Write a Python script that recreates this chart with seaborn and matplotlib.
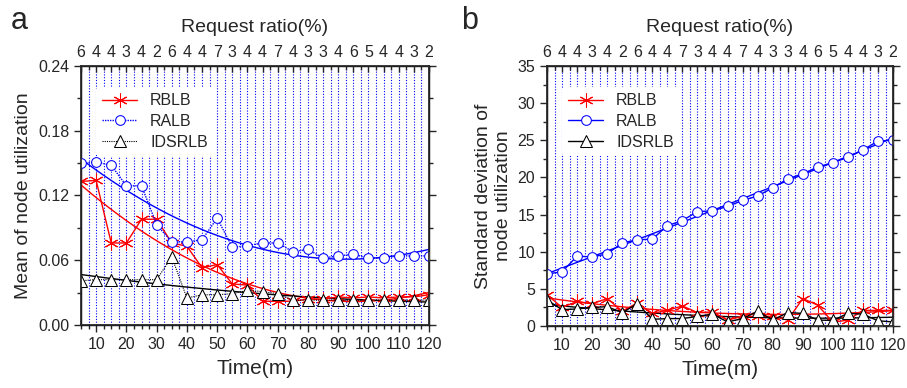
import numpy as np
import matplotlib
matplotlib.use("Agg")
import matplotlib.pyplot as plt
import seaborn as sns
from matplotlib.ticker import MultipleLocator, FormatStrFormatter

sns.set_theme(style="ticks")
plt.rcParams["font.family"] = ["Liberation Sans", "DejaVu Sans"]

# Data
time = np.arange(5, 121, 5)
ratio = ["6", "4", "4", "3", "4", "2", "6", "4", "4", "7", "3", "4",
         "4", "7", "4", "3", "3", "4", "6", "5", "4", "4", "3", "2"]

# panel a: mean of node utilization
mean_rblb = [0.133, 0.134, 0.076, 0.076, 0.098, 0.098, 0.076, 0.073, 0.053, 0.056, 0.038, 0.037,
             0.022, 0.022, 0.022, 0.024, 0.024, 0.026, 0.025, 0.026, 0.025, 0.026, 0.026, 0.028]
mean_ralb = [0.150, 0.151, 0.148, 0.129, 0.129, 0.093, 0.077, 0.077, 0.079, 0.099, 0.072, 0.0735,
             0.076, 0.076, 0.068, 0.070, 0.062, 0.064, 0.0655, 0.062, 0.062, 0.064, 0.064, 0.064]
mean_idsrlb = [0.041, 0.042, 0.042, 0.042, 0.042, 0.042, 0.063, 0.025, 0.028, 0.028, 0.029, 0.032,
               0.031, 0.029, 0.023, 0.023, 0.023, 0.023, 0.023, 0.023, 0.023, 0.023, 0.023, 0.023]

# panel b: standard deviation of node utilization
std_rblb = [4.2, 2.5, 3.3, 3.0, 3.7, 2.0, 3.1, 1.7, 2.1, 2.7, 1.8, 1.9,
            0.8, 1.3, 1.3, 1.3, 0.8, 3.7, 2.8, 0.5, 0.8, 2.1, 2.1, 2.1]
std_ralb = [7.0, 7.3, 9.4, 9.3, 9.7, 11.2, 11.6, 11.7, 13.5, 14.2, 15.4, 15.5,
            16.1, 16.9, 17.5, 18.6, 19.8, 20.5, 21.4, 22.0, 22.7, 23.7, 24.9, 25.0]
std_idsrlb = [3.5, 2.2, 2.3, 2.5, 2.6, 1.8, 3.0, 0.9, 1.0, 1.0, 1.3, 1.6,
              0.55, 1.0, 2.0, 0.8, 1.8, 1.7, 0.8, 0.75, 1.7, 1.6, 0.7, 0.55]

fig = plt.figure(figsize=(9.07, 3.88), dpi=100)
ax_a = fig.add_axes([0.0893, 0.1624, 0.3837, 0.6675])
ax_b = fig.add_axes([0.6031, 0.1598, 0.3815, 0.6701])

grid_x = np.arange(5, 120.1, 2.5)
tt = np.linspace(5, 120, 200)


def fit_line(ax, y, color, deg=2):
    coef = np.polyfit(time, y, deg)
    sns.lineplot(x=tt, y=np.polyval(coef, tt), ax=ax, color=color, lw=1, zorder=3)


def style_panel(ax, ymax, ymajor, yminor, ylabel):
    for gx in grid_x:
        ax.axvline(gx, color="#0000ff", lw=0.8, ls=(0, (1, 1.5)), zorder=0)
    ax.set_xticks(np.arange(10, 121, 10))
    ax.xaxis.set_minor_locator(MultipleLocator(2.5))
    ax.set_xlim(5, 120)
    ax.set_ylim(0, ymax)
    ax.yaxis.set_major_locator(MultipleLocator(ymajor))
    ax.yaxis.set_minor_locator(MultipleLocator(yminor))
    ax.tick_params(axis="both", which="major", labelsize=11.5, length=5, width=1, direction="out")
    ax.tick_params(axis="both", which="minor", length=3, width=1, direction="out")
    ax.tick_params(axis="y", which="both", right=True, labelright=False)
    for side in ["left", "right", "top", "bottom"]:
        ax.spines[side].set_visible(True)
        ax.spines[side].set_color("black")
        ax.spines[side].set_linewidth(1)
    ax.set_xlabel("Time(m)", fontsize=15, labelpad=5)
    ax.set_ylabel(ylabel, fontsize=14)

    top = ax.twiny()
    top.set_xlim(5, 120)
    top.set_xticks(time)
    top.set_xticklabels(ratio)
    top.xaxis.set_minor_locator(MultipleLocator(2.5))
    top.tick_params(axis="x", which="major", labelsize=11.5, length=4, width=1, direction="in", pad=4)
    top.tick_params(axis="x", which="minor", length=3, width=1, direction="in")
    top.set_xlabel("Request ratio(%)", fontsize=14, labelpad=10)

    leg = ax.legend(loc="upper left", bbox_to_anchor=(0.02, 0.95), frameon=True, fontsize=11.5,
                    handlelength=2.2, borderpad=0.4, labelspacing=0.35)
    leg.get_frame().set_edgecolor("none")
    leg.get_frame().set_facecolor("white")
    leg.get_frame().set_alpha(1)


# panel a
sns.lineplot(x=time, y=mean_rblb, ax=ax_a, color="red", lw=1, marker=(6, 2, 0), ms=10,
             mec="red", label="RBLB", zorder=4)
sns.lineplot(x=time, y=mean_ralb, ax=ax_a, color="blue", lw=1, ls=(0, (1, 0.8)), marker="o", ms=7,
             mfc="white", mec="blue", label="RALB", zorder=4)
sns.lineplot(x=time, y=mean_idsrlb, ax=ax_a, color="black", lw=0.8, ls=(0, (1, 1)), marker="^", ms=8,
             mfc="white", mec="black", label="IDSRLB", zorder=4)
fit_line(ax_a, mean_rblb, "red")
fit_line(ax_a, mean_ralb, "blue")
fit_line(ax_a, mean_idsrlb, "black")
style_panel(ax_a, 0.24, 0.06, 0.03, "Mean of node utilization")
ax_a.yaxis.set_major_formatter(FormatStrFormatter("%.2f"))

# panel b
sns.lineplot(x=time, y=std_rblb, ax=ax_b, color="red", lw=1, marker=(6, 2, 0), ms=10,
             mec="red", label="RBLB", zorder=4)
sns.lineplot(x=time, y=std_ralb, ax=ax_b, color="blue", lw=1, marker="o", ms=7,
             mfc="white", mec="blue", label="RALB", zorder=4)
sns.lineplot(x=time, y=std_idsrlb, ax=ax_b, color="black", lw=1, marker="^", ms=8,
             mfc="white", mec="black", label="IDSRLB", zorder=4)
fit_line(ax_b, std_rblb, "red")
fit_line(ax_b, std_ralb, "blue")
fit_line(ax_b, std_idsrlb, "black")
style_panel(ax_b, 35, 5, 2.5, "Standard deviation of\nnode utilization")

fig.text(0.012, 0.945, "a", fontsize=22, va="center", ha="left")
fig.text(0.508, 0.945, "b", fontsize=22, va="center", ha="left")

fig.savefig("out.png", dpi=100)
